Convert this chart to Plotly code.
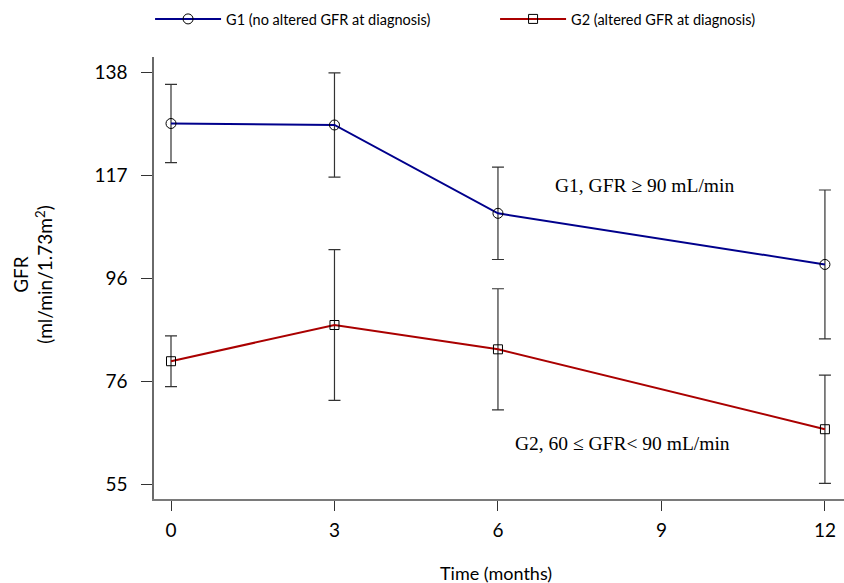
import plotly.graph_objects as go

months = [0, 3, 6, 12]
g1_mean = [127.7, 127.4, 109.6, 99.3]
g1_err = [7.9, 10.5, 9.3, 15.0]
g2_mean = [79.8, 87.1, 82.2, 66.1]
g2_err = [5.1, 15.2, 12.2, 10.9]

g1_name = "G1 (no altered GFR at diagnosis)"
g2_name = "G2 (altered GFR at diagnosis)"

y_tickvals = [55, 75.75, 96.5, 117.25, 138]
y_ticktext = ["55", "76", "96", "117", "138"]
x_tickvals = [0, 3, 6, 9, 12]

SANS = "Lato, 'Open Sans', sans-serif"
SERIF = "'Liberation Serif', 'Times New Roman', serif"

fig = go.Figure()
fig.add_trace(go.Scatter(
    x=months, y=g1_mean, name=g1_name, mode="lines+markers",
    line=dict(color="#00008C", width=2),
    marker=dict(symbol="circle-open", size=10, color="black", line=dict(width=1, color="black")),
    error_y=dict(type="data", array=g1_err, visible=True, color="#333333", thickness=1.2, width=6),
))
fig.add_trace(go.Scatter(
    x=months, y=g2_mean, name=g2_name, mode="lines+markers",
    line=dict(color="#AA0000", width=2),
    marker=dict(symbol="square-open", size=9, color="black", line=dict(width=1, color="black")),
    error_y=dict(type="data", array=g2_err, visible=True, color="#333333", thickness=1.2, width=6),
))

fig.add_annotation(x=7.01, y=115.3, xref="x", yref="y", xanchor="left", yanchor="middle",
                   text="G1, GFR \u2265 90 mL/min", showarrow=False,
                   font=dict(family=SERIF, size=19.5, color="black"))
fig.add_annotation(x=6.28, y=63.3, xref="x", yref="y", xanchor="left", yanchor="middle",
                   text="G2, 60 \u2264 GFR< 90 mL/min", showarrow=False,
                   font=dict(family=SERIF, size=19.5, color="black"))

# axis titles
fig.add_annotation(x=0.496, y=-0.167, xref="paper", yref="paper", xanchor="center", yanchor="middle",
                   text="Time (months)", showarrow=False, font=dict(family=SANS, size=18, color="black"))
fig.add_annotation(x=-0.175, y=0.508, xref="paper", yref="paper", xanchor="center", yanchor="middle",
                   text="GFR<br>(ml/min/1.73m<sup>2</sup>)", textangle=-90, showarrow=False,
                   font=dict(family=SANS, size=19, color="black"))

fig.update_layout(
    width=844, height=583,
    margin=dict(l=154, r=0, t=57, b=84, autoexpand=False),
    paper_bgcolor="white", plot_bgcolor="white",
    showlegend=True,
    legend=dict(orientation="h", x=-0.0057, xanchor="left", y=1.086, yanchor="middle",
                font=dict(family=SANS, size=14.5, color="black"),
                itemwidth=66, entrywidth=264, entrywidthmode="pixels",
                bgcolor="rgba(0,0,0,0)", borderwidth=0),
    xaxis=dict(range=[-0.312, 12.35], tickvals=x_tickvals, showgrid=False, zeroline=False,
               showline=True, linecolor="#7a7a7a", linewidth=2, ticks="outside", ticklen=10,
               tickcolor="#333333", tickwidth=1, ticklabelstandoff=3,
               tickfont=dict(family=SANS, size=19, color="black")),
    yaxis=dict(range=[52.04, 141.1], tickvals=y_tickvals, ticktext=y_ticktext, showgrid=False,
               zeroline=False, showline=True, linecolor="#6a6a6a", linewidth=1.5, ticks="outside",
               ticklen=11, tickcolor="#333333", tickwidth=1.2, ticklabelstandoff=10,
               tickfont=dict(family=SANS, size=19, color="black")),
)

fig.write_html("out.html", config={"displayModeBar": False},
               post_script="document.body.style.margin='0';")
